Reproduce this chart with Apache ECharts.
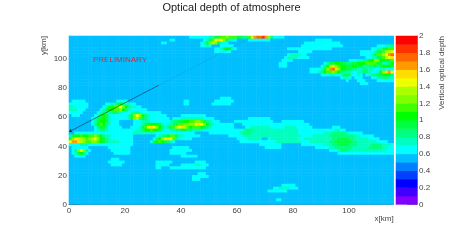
<!DOCTYPE html>
<html><head><meta charset="utf-8">
<style>html,body{margin:0;padding:0;background:#fff}#c{width:463px;height:241px}</style>
<script src="https://cdn.jsdelivr.net/npm/echarts@6/dist/echarts.min.js"></script>
</head><body><div id="c"></div>
<script>
const FONT = '"Liberation Sans", Arial, sans-serif';
const TITLE = 'Optical depth of atmosphere';
const xMajor = [0,20,40,60,80,100];
const yMajor = [0,20,40,60,80,100];
const xMinor = [5,10,15,25,30,35,45,50,55,65,70,75,85,90,95,105,110,115];
const yMinor = [5,10,15,25,30,35,45,50,55,65,70,75,85,90,95,105,110,115];
const barTicks = [0,0.2,0.4,0.6,0.8,1,1.2,1.4,1.6,1.8,2];
const bandColors = ['#7f00ff','#4000ff','#0000ff','#0040ff','#0080ff','#00bfff','#00ffff','#00ffbf','#00ff80','#00ff40','#00ff00','#40ff00','#80ff00','#aaff00','#eeff00','#ffdd00','#ff9900','#ff6600','#ff3300','#ff0000'];
const trackSolid = [[0,50],[32,82]];
const trackFaint = [[32,82],[66,116]];
// Band per 1 km column and 2 km row, as "column:band" changes, top row (y=114) first. Base-36 band index.
const bandRuns = [
"43:6 50:7 52:9 54:b 56:c 57:b 60:9 62:8 64:b 65:e 66:g 67:h 69:i 70:g 71:c 72:8 73:6 77:5", //114
"36:6 38:5 48:6 49:7 50:9 51:b 52:e 53:f 54:e 55:c 56:9 57:7 58:6 60:5 64:6 72:5 88:6 94:5", //112
"33:6 35:5 47:6 48:7 49:9 50:c 51:d 52:c 53:9 54:7 55:6 57:5 84:6 97:5", //110
"47:6 49:7 50:6 51:5 54:6 59:5 83:6 98:5 110:6 113:7 115:8", //108
"52:6 54:7 55:9 56:a 57:9 58:7 59:6 60:5 78:6 94:5 108:6 110:7 112:9 114:b", //106
"52:6 58:5 82:6 87:5 104:6 109:7 110:9 112:b 113:d 115:e", //104
"78:6 79:7 83:6 85:5 104:6 108:7 109:9 110:b 112:d 113:e 114:g 115:h", //102
"77:6 78:7 82:6 86:5 106:6 108:7 110:9 112:b 113:d 114:e 115:f", //100
"76:6 80:5 100:6 103:7 105:8 107:a 109:c 111:a 113:9 115:b", //98
"75:6 78:5 91:6 92:7 93:9 95:a 97:9 99:8 101:9 103:a 106:b 110:9 112:7 114:8 115:a", //96
"75:6 78:5 90:6 91:8 92:a 93:d 94:e 95:c 96:b 97:a 99:9 101:a 103:9 105:7 107:8 109:9 110:7 111:9 112:a 115:9", //94
"86:6 90:7 91:9 92:c 93:g 94:h 95:f 96:c 97:a 99:9 101:8 103:7 105:8 107:7 109:6 111:7 113:6", //92
"86:6 89:7 90:8 91:a 92:b 94:c 95:b 96:a 97:8 98:7 101:6 103:7 105:9 106:8 107:7 108:6 110:7 111:9 112:d 113:f 114:g 115:e", //90
"90:6 93:7 95:6 97:7 98:9 100:8 101:6 103:7 104:6 105:5 106:6 107:7 108:8 110:9 112:a 115:8", //88
"97:6 98:7 100:6 101:5 102:6 105:5 108:6 110:7 112:8 114:7", //86
"99:6 100:5 103:6 106:5 110:6", //84
"104:6 107:5", //82
"", //80
"", //78
"", //76
"", //74
"54:6 58:5", //72
"1:6 6:5 17:6 21:5 41:6 43:5 52:6 59:5", //70
"0:6 7:5 13:6 15:7 17:9 18:a 19:8 20:7 22:6 24:5 41:6 43:5 51:6 58:5", //68
"0:7 2:6 7:5 12:6 13:7 14:9 15:a 16:b 17:c 18:e 19:c 20:a 21:8 22:7 24:6 26:5", //66
"0:7 3:6 6:5 11:6 12:7 13:9 14:a 16:b 18:c 19:a 20:8 21:7 22:6 28:5", //64
"0:6 5:5 10:6 11:7 12:8 14:7 15:8 16:9 17:8 18:7 19:6 22:7 23:8 25:7 26:6 33:5", //62
"1:6 4:5 9:6 10:7 11:9 12:a 13:9 14:7 15:6 21:7 22:9 23:c 24:e 25:c 26:a 27:8 28:7 29:6 35:5 40:6 49:5", //60
"8:6 9:7 10:9 12:a 13:9 14:7 15:6 21:7 22:9 23:c 24:d 25:b 26:9 27:8 28:7 29:6 36:5 37:6 40:7 48:6 52:5 64:6 72:5", //58
"8:6 9:7 10:9 11:a 13:9 14:7 15:6 18:5 23:6 26:7 29:6 36:7 37:8 39:9 41:a 43:b 45:c 47:b 48:9 49:8 50:7 51:6 54:5 59:6 73:5 76:6 84:5", //56
"8:6 9:8 10:a 11:b 12:a 13:8 14:7 15:6 18:5 23:6 26:7 27:9 28:a 32:9 33:7 34:6 35:7 37:8 38:9 39:b 41:c 45:e 46:f 47:e 48:c 49:a 50:8 51:7 52:6 59:5 62:6 86:5", //54
"9:6 10:8 11:9 13:8 14:6 19:5 22:6 25:7 26:9 27:b 28:e 29:f 30:e 31:c 32:a 33:8 34:7 35:8 36:9 37:b 38:d 39:e 40:f 41:d 42:b 43:a 44:b 47:a 48:9 49:8 50:7 51:6 59:5 63:6 65:7 72:6 77:7 81:6 87:5 94:6 97:5", //52
"9:6 10:7 11:8 13:7 14:6 24:7 26:8 27:a 29:b 30:a 32:9 33:7 34:6 36:7 38:8 40:9 42:8 44:7 48:6 62:7 63:8 66:7 82:6 95:7 97:6 99:5", //50
"2:6 23:7 31:6 45:5 50:6 61:7 62:8 65:7 82:6 91:7 94:8 99:7 100:6 105:5", //48
"0:7 1:9 2:a 4:b 5:a 7:b 9:c 10:b 11:a 12:8 13:7 15:6 23:5 31:6 32:7 33:8 35:a 36:b 38:9 39:7 41:6 47:5 57:6 62:7 83:6 87:7 93:8 102:7 104:6 109:5", //46
"0:9 1:c 2:e 3:f 4:d 5:c 6:b 7:c 8:d 9:e 10:c 11:a 12:9 13:8 14:7 15:6 23:5 30:6 31:8 32:a 33:c 34:e 35:f 36:e 37:b 38:8 39:7 40:6 44:5 60:6 64:7 69:5 71:6 72:7 82:6 84:7 94:8 96:9 100:8 102:7 107:6 111:5", //44
"0:e 1:g 3:f 4:d 5:c 6:b 8:c 10:b 11:a 12:9 13:8 14:7 18:6 23:5 29:6 30:9 31:a 32:b 33:a 34:9 35:8 36:7 37:6 38:5 61:6 74:7 83:6 86:7 93:8 95:9 101:8 103:7 110:6 114:5", //42
"0:6 4:7 7:6 23:5 68:6 76:5 83:6 91:7 94:8 96:9 100:8 103:7 108:8 112:7 115:6", //40
"1:6 7:5 14:6 22:5 37:6 43:5 70:6 76:5 88:6 93:7 95:8 101:7 107:8 112:7 114:6", //38
"1:6 2:8 3:c 4:e 5:c 6:8 7:6 8:5 15:6 22:5 36:6 44:5 93:6 96:7 97:8 100:7 113:6", //36
"1:6 2:7 3:9 4:a 5:8 6:6 7:5 16:6 22:5 36:6 42:5 96:6", //34
"2:6 6:5 40:6 46:5", //32
"15:6 18:5", //30
"14:6 20:5 31:6 37:5 45:6 49:5", //28
"15:6 19:5 31:6 36:5 40:6 45:7 47:6 50:5", //26
"31:6 33:5 36:6 49:5", //24
"", //22
"46:6 49:5", //20
"44:6 50:5", //18
"44:6 47:5", //16
"", //14
"76:6 81:5", //12
"73:6 75:7 79:6 82:5", //10
"71:6 78:5", //8
"", //6
"", //4
"74:6 76:5", //2
"" //0
];
const N_COL = 116, BG = 5;
const bandValue = b => +(b * 0.1 + 0.05).toFixed(2);
const xCats = Array.from({length:N_COL}, (_, i) => String(i));
const yCats = bandRuns.map((_, i) => String((bandRuns.length - 1 - i) * 2)).reverse();
const cells = [];
bandRuns.forEach((s, i) => {
  const row = bandRuns.length - 1 - i;
  const runs = s ? s.split(' ').map(t => { const p = t.split(':'); return [+p[0], parseInt(p[1], 36)]; }) : [];
  let cur = BG, k = 0;
  for (let c = 0; c < N_COL; c++) {
    while (k < runs.length && runs[k][0] <= c) { cur = runs[k][1]; k++; }
    cells.push([c, row, bandValue(cur)]);
  }
});
const barCells = bandColors.map((_, i) => [0, i, bandValue(i)]);
const pieces = bandColors.map((color, i) => ({min: i * 0.1, max: (i + 1) * 0.1, color}));

const AXC = '#333', TXT = '#444', FS = 8;
const G = {left:69, top:36, width:324.7, height:168.4};
const off = {show:false};
const hiddenCat = (data, grid) => ({type:'category', data, gridIndex:grid, show:false, boundaryGap:true});
const chart = echarts.init(document.getElementById('c'), null, {renderer:'canvas'});
chart.setOption({
  animation:false, backgroundColor:'#fff',
  title:{text:TITLE, left:226.5, textAlign:'center', top:-3, textStyle:{fontFamily:FONT, fontSize:11, fontWeight:'normal', color:'#222'}},
  grid:[
    {left:G.left, top:G.top, width:G.width, height:G.height, containLabel:false},
    {left:396, top:G.top, width:21, height:G.height, containLabel:false}
  ],
  xAxis:[
    hiddenCat(xCats, 0),
    {type:'value', gridIndex:0, min:0, max:116, position:'bottom', splitLine:off,
      axisLine:{show:true, onZero:false, lineStyle:{color:AXC, width:1, opacity:.65}},
      axisTick:{show:true, inside:true, length:5, customValues:xMajor, lineStyle:{color:AXC, opacity:.65}},
      axisLabel:{show:true, margin:2, customValues:xMajor, fontFamily:FONT, fontSize:FS, color:TXT}},
    {type:'value', gridIndex:0, min:0, max:116, position:'bottom', splitLine:off, axisLine:off,
      axisTick:{show:true, inside:true, length:2.5, customValues:xMinor, lineStyle:{color:AXC, opacity:.65}},
      axisLabel:off},
    hiddenCat([''], 1)
  ],
  yAxis:[
    hiddenCat(yCats, 0),
    {type:'value', gridIndex:0, min:0, max:116, position:'left', splitLine:off,
      axisLine:{show:true, onZero:false, lineStyle:{color:AXC, width:1, opacity:.5}},
      axisTick:{show:true, inside:true, length:10, customValues:yMajor, lineStyle:{color:AXC, opacity:.65}},
      axisLabel:{show:true, margin:2, customValues:yMajor, fontFamily:FONT, fontSize:FS, color:TXT}},
    {type:'value', gridIndex:0, min:0, max:116, position:'left', splitLine:off, axisLine:off,
      axisTick:{show:true, inside:true, length:5, customValues:yMinor, lineStyle:{color:AXC, opacity:.65}},
      axisLabel:off},
    hiddenCat(bandColors.map((_, i) => String(i)), 1),
    {type:'value', gridIndex:1, min:0, max:2, interval:0.2, position:'right', splitLine:off,
      axisLine:{show:true, onZero:false, lineStyle:{color:AXC, width:1, opacity:.6}},
      axisTick:{show:true, inside:true, length:10, customValues:barTicks, lineStyle:{color:AXC, opacity:.6}},
      axisLabel:{show:true, margin:2, customValues:barTicks, fontFamily:FONT, fontSize:FS, color:TXT}}
  ],
  visualMap:{show:false, type:'piecewise', seriesIndex:[0,1], pieces, dimension:2},
  series:[
    {type:'heatmap', xAxisIndex:0, yAxisIndex:0, data:cells, progressive:0, emphasis:{disabled:true}, itemStyle:{borderWidth:0}, z:1},
    {type:'heatmap', xAxisIndex:3, yAxisIndex:3, data:barCells, progressive:0, emphasis:{disabled:true}, itemStyle:{borderWidth:0}, z:1},
    {type:'line', xAxisIndex:1, yAxisIndex:1, data:[], z:5, silent:true,
      markLine:{silent:true, animation:false, label:{show:false}, emphasis:{disabled:true},
        data:[
          [{coord:trackSolid[0], symbol:'arrow', symbolSize:3, lineStyle:{color:'#1a2a3a', width:0.6, type:'solid'}}, {coord:trackSolid[1], symbol:'none'}],
          [{coord:trackFaint[0], symbol:'none', lineStyle:{color:'#1a7fb0', width:0.5, type:'dotted'}}, {coord:trackFaint[1], symbol:'none'}]
        ]}}
  ],
  graphic:[
    {type:'text', left:93, top:56, z:10, silent:true, style:{text:'PRELIMINARY', fontFamily:FONT, fontSize:8, fill:'#cc3038'}},
    {type:'text', right:463-393.7, top:215, silent:true, style:{text:'x[km]', fontFamily:FONT, fontSize:FS, fill:TXT}},
    {type:'text', x:44, y:36, rotation:Math.PI/2, silent:true, style:{text:'y[km]', fontFamily:FONT, fontSize:FS, fill:TXT, align:'right', verticalAlign:'middle'}},
    {type:'text', x:442, y:36, rotation:Math.PI/2, silent:true, style:{text:'Vertical optical depth', fontFamily:FONT, fontSize:FS, fill:TXT, align:'right', verticalAlign:'middle'}}
  ]
});
</script></body></html>
